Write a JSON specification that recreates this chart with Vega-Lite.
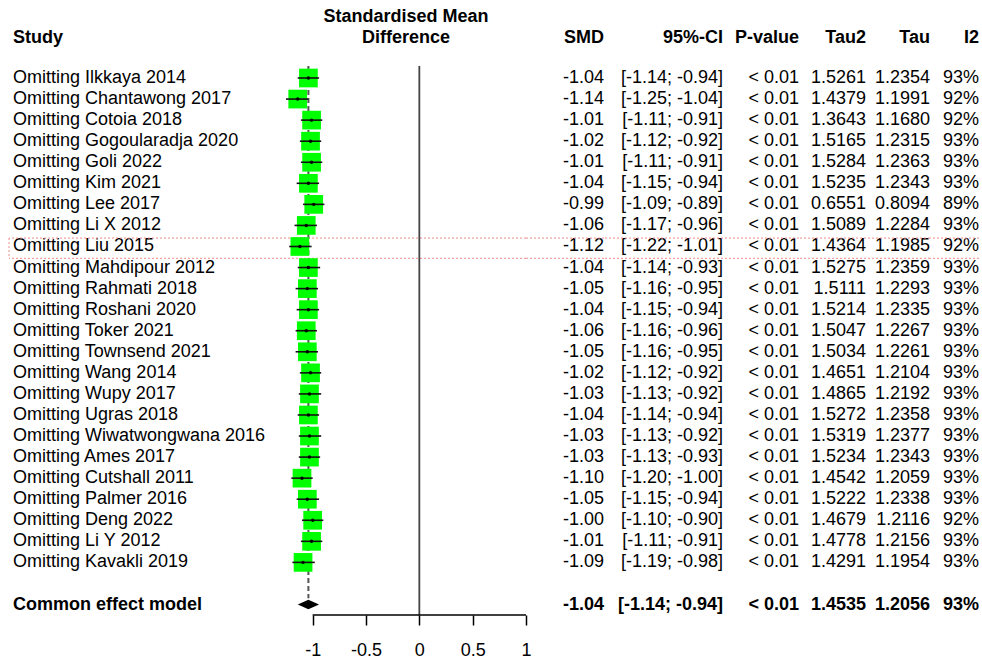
{
  "$schema": "https://vega.github.io/schema/vega-lite/v6.json",
  "padding": {"left": 8, "top": 0, "right": 4, "bottom": 0},
  "spacing": 0,
  "bounds": "flush",
  "config": {
    "view": {"stroke": null},
    "text": {"font": "Liberation Sans", "fontSize": 18, "color": "#000000"},
    "axis": {"labelFont": "Liberation Sans"},
    "locale": {"number": {"decimal": ".", "thousands": ",", "grouping": [3], "currency": ["$", ""], "minus": "-"}}
  },
  "datasets": {
    "rows": [
      {"study": "Omitting Ilkkaya 2014", "row": 1, "kind": "study", "smd": -1.04, "lower": -1.14, "upper": -0.94, "p": "< 0.01", "tau2": 1.5261, "tau": 1.2354, "i2": 0.93},
      {"study": "Omitting Chantawong 2017", "row": 2, "kind": "study", "smd": -1.14, "lower": -1.25, "upper": -1.04, "p": "< 0.01", "tau2": 1.4379, "tau": 1.1991, "i2": 0.92},
      {"study": "Omitting Cotoia 2018", "row": 3, "kind": "study", "smd": -1.01, "lower": -1.11, "upper": -0.91, "p": "< 0.01", "tau2": 1.3643, "tau": 1.1680, "i2": 0.92},
      {"study": "Omitting Gogoularadja 2020", "row": 4, "kind": "study", "smd": -1.02, "lower": -1.12, "upper": -0.92, "p": "< 0.01", "tau2": 1.5165, "tau": 1.2315, "i2": 0.93},
      {"study": "Omitting Goli 2022", "row": 5, "kind": "study", "smd": -1.01, "lower": -1.11, "upper": -0.91, "p": "< 0.01", "tau2": 1.5284, "tau": 1.2363, "i2": 0.93},
      {"study": "Omitting Kim 2021", "row": 6, "kind": "study", "smd": -1.04, "lower": -1.15, "upper": -0.94, "p": "< 0.01", "tau2": 1.5235, "tau": 1.2343, "i2": 0.93},
      {"study": "Omitting Lee 2017", "row": 7, "kind": "study", "smd": -0.99, "lower": -1.09, "upper": -0.89, "p": "< 0.01", "tau2": 0.6551, "tau": 0.8094, "i2": 0.89},
      {"study": "Omitting Li X 2012", "row": 8, "kind": "study", "smd": -1.06, "lower": -1.17, "upper": -0.96, "p": "< 0.01", "tau2": 1.5089, "tau": 1.2284, "i2": 0.93},
      {"study": "Omitting Liu 2015", "row": 9, "kind": "study", "smd": -1.12, "lower": -1.22, "upper": -1.01, "p": "< 0.01", "tau2": 1.4364, "tau": 1.1985, "i2": 0.92},
      {"study": "Omitting Mahdipour 2012", "row": 10, "kind": "study", "smd": -1.04, "lower": -1.14, "upper": -0.93, "p": "< 0.01", "tau2": 1.5275, "tau": 1.2359, "i2": 0.93},
      {"study": "Omitting Rahmati 2018", "row": 11, "kind": "study", "smd": -1.05, "lower": -1.16, "upper": -0.95, "p": "< 0.01", "tau2": 1.5111, "tau": 1.2293, "i2": 0.93},
      {"study": "Omitting Roshani 2020", "row": 12, "kind": "study", "smd": -1.04, "lower": -1.15, "upper": -0.94, "p": "< 0.01", "tau2": 1.5214, "tau": 1.2335, "i2": 0.93},
      {"study": "Omitting Toker 2021", "row": 13, "kind": "study", "smd": -1.06, "lower": -1.16, "upper": -0.96, "p": "< 0.01", "tau2": 1.5047, "tau": 1.2267, "i2": 0.93},
      {"study": "Omitting Townsend 2021", "row": 14, "kind": "study", "smd": -1.05, "lower": -1.16, "upper": -0.95, "p": "< 0.01", "tau2": 1.5034, "tau": 1.2261, "i2": 0.93},
      {"study": "Omitting Wang 2014", "row": 15, "kind": "study", "smd": -1.02, "lower": -1.12, "upper": -0.92, "p": "< 0.01", "tau2": 1.4651, "tau": 1.2104, "i2": 0.93},
      {"study": "Omitting Wupy 2017", "row": 16, "kind": "study", "smd": -1.03, "lower": -1.13, "upper": -0.92, "p": "< 0.01", "tau2": 1.4865, "tau": 1.2192, "i2": 0.93},
      {"study": "Omitting Ugras 2018", "row": 17, "kind": "study", "smd": -1.04, "lower": -1.14, "upper": -0.94, "p": "< 0.01", "tau2": 1.5272, "tau": 1.2358, "i2": 0.93},
      {"study": "Omitting Wiwatwongwana 2016", "row": 18, "kind": "study", "smd": -1.03, "lower": -1.13, "upper": -0.92, "p": "< 0.01", "tau2": 1.5319, "tau": 1.2377, "i2": 0.93},
      {"study": "Omitting Ames 2017", "row": 19, "kind": "study", "smd": -1.03, "lower": -1.13, "upper": -0.93, "p": "< 0.01", "tau2": 1.5234, "tau": 1.2343, "i2": 0.93},
      {"study": "Omitting Cutshall 2011", "row": 20, "kind": "study", "smd": -1.10, "lower": -1.20, "upper": -1.00, "p": "< 0.01", "tau2": 1.4542, "tau": 1.2059, "i2": 0.93},
      {"study": "Omitting Palmer 2016", "row": 21, "kind": "study", "smd": -1.05, "lower": -1.15, "upper": -0.94, "p": "< 0.01", "tau2": 1.5222, "tau": 1.2338, "i2": 0.93},
      {"study": "Omitting Deng 2022", "row": 22, "kind": "study", "smd": -1.00, "lower": -1.10, "upper": -0.90, "p": "< 0.01", "tau2": 1.4679, "tau": 1.2116, "i2": 0.92},
      {"study": "Omitting Li Y 2012", "row": 23, "kind": "study", "smd": -1.01, "lower": -1.11, "upper": -0.91, "p": "< 0.01", "tau2": 1.4778, "tau": 1.2156, "i2": 0.93},
      {"study": "Omitting Kavakli 2019", "row": 24, "kind": "study", "smd": -1.09, "lower": -1.19, "upper": -0.98, "p": "< 0.01", "tau2": 1.4291, "tau": 1.1954, "i2": 0.93},
      {"study": "Common effect model", "row": 26, "kind": "common", "smd": -1.04, "lower": -1.14, "upper": -0.94, "p": "< 0.01", "tau2": 1.4535, "tau": 1.2056, "i2": 0.93}
    ],
    "one": [{"k": 1}]
  },
  "hconcat": [
    {
      "width": 277,
      "height": 615,
      "layer": [
        {
          "data": {"name": "rows"},
          "mark": {"type": "text", "align": "left", "baseline": "middle", "dx": 4, "fontWeight": {"expr": "datum.kind === 'common' ? 'bold' : 'normal'"}},
          "encoding": {
            "x": {"value": 0},
            "y": {"field": "row", "type": "quantitative", "scale": {"domain": [-2.704, 26.498], "reverse": true, "nice": false, "zero": false}, "axis": null},
            "text": {"field": "study", "type": "nominal"}
          }
        },
        {
          "data": {"name": "one"},
          "mark": {"type": "text", "text": "Study", "align": "left", "baseline": "alphabetic", "dx": 4, "fontWeight": "bold"},
          "encoding": {"x": {"value": 0}, "y": {"datum": -0.64, "type": "quantitative"}}
        },
        {
          "data": {"name": "one"},
          "mark": {"type": "rule", "color": "#f08a8a", "strokeDash": [2, 2], "strokeWidth": 1},
          "encoding": {"y": {"datum": 8.6, "type": "quantitative"}}
        },
        {
          "data": {"name": "one"},
          "mark": {"type": "rule", "color": "#f08a8a", "strokeDash": [2, 2], "strokeWidth": 1},
          "encoding": {"y": {"datum": 9.56, "type": "quantitative"}}
        },
        {
          "data": {"name": "one"},
          "mark": {"type": "rule", "color": "#f08a8a", "strokeDash": [2, 2], "strokeWidth": 1},
          "encoding": {"x": {"value": 0}, "y": {"datum": 8.6, "type": "quantitative"}, "y2": {"datum": 9.56}}
        }
      ]
    },
    {
      "width": 240,
      "height": 615,
      "layer": [
        {
          "data": {"name": "one"},
          "mark": {"type": "rule", "color": "#f08a8a", "strokeDash": [2, 2], "strokeWidth": 1},
          "encoding": {"y": {"datum": 8.6, "type": "quantitative", "scale": {"domain": [-2.704, 26.498], "reverse": true, "nice": false, "zero": false}, "axis": null}}
        },
        {
          "data": {"name": "one"},
          "mark": {"type": "rule", "color": "#f08a8a", "strokeDash": [2, 2], "strokeWidth": 1},
          "encoding": {"y": {"datum": 9.56, "type": "quantitative"}}
        },
        {
          "data": {"name": "one"},
          "mark": {"type": "rule", "color": "#444444", "strokeWidth": 1.8},
          "encoding": {"x": {"datum": 0, "type": "quantitative"}, "y": {"datum": 0.43, "type": "quantitative"}, "y2": {"datum": 26.498}}
        },
        {
          "data": {"name": "rows"},
          "transform": [{"filter": "datum.kind === 'common'"}],
          "mark": {"type": "rule", "color": "#555555", "strokeWidth": 2, "strokeDash": [5, 3]},
          "encoding": {"x": {"field": "smd", "type": "quantitative"}, "y": {"datum": 0.43, "type": "quantitative"}, "y2": {"datum": 25.7}}
        },
        {
          "data": {"name": "rows"},
          "transform": [{"filter": "datum.kind === 'study'"}],
          "mark": {"type": "point", "shape": "square", "filled": true, "color": "#00ff00", "opacity": 1, "size": 350},
          "encoding": {
            "x": {
              "field": "smd",
              "type": "quantitative",
              "scale": {"domain": [-1.25, 1.0], "nice": false, "zero": false},
              "axis": {"values": [-1, -0.5, 0, 0.5, 1], "format": "~g", "domain": false, "grid": false, "title": null, "tickSize": 10, "tickWidth": 1.5, "tickColor": "#000000", "labelFontSize": 18, "labelColor": "#000000", "labelPadding": 16, "labelFlush": false, "labelOverlap": false}
            },
            "y": {"field": "row", "type": "quantitative"}
          }
        },
        {
          "data": {"name": "rows"},
          "transform": [{"filter": "datum.kind === 'study'"}],
          "mark": {"type": "rule", "color": "#111111", "strokeWidth": 1.6},
          "encoding": {"x": {"field": "lower", "type": "quantitative"}, "x2": {"field": "upper"}, "y": {"field": "row", "type": "quantitative"}}
        },
        {
          "data": {"name": "rows"},
          "transform": [{"filter": "datum.kind === 'study'"}],
          "mark": {"type": "point", "shape": "circle", "filled": true, "color": "#000000", "opacity": 1, "size": 12},
          "encoding": {"x": {"field": "smd", "type": "quantitative"}, "y": {"field": "row", "type": "quantitative"}}
        },
        {
          "data": {"name": "rows"},
          "transform": [{"filter": "datum.kind === 'common'"}],
          "mark": {"type": "point", "shape": "M-1,0L0,-0.45L1,0L0,0.45Z", "filled": true, "color": "#000000", "opacity": 1, "size": 454},
          "encoding": {"x": {"field": "smd", "type": "quantitative"}, "y": {"field": "row", "type": "quantitative"}}
        },
        {
          "data": {"name": "one"},
          "mark": {"type": "rule", "color": "#000000", "strokeWidth": 1.5},
          "encoding": {"x": {"datum": -1, "type": "quantitative"}, "x2": {"datum": 1}, "y": {"datum": 26.498, "type": "quantitative"}}
        },
        {
          "data": {"name": "one"},
          "mark": {"type": "text", "text": "Standardised Mean", "align": "center", "baseline": "alphabetic", "fontWeight": "bold"},
          "encoding": {"y": {"datum": -1.673, "type": "quantitative"}}
        },
        {
          "data": {"name": "one"},
          "mark": {"type": "text", "text": "Difference", "align": "center", "baseline": "alphabetic", "fontWeight": "bold"},
          "encoding": {"y": {"datum": -0.64, "type": "quantitative"}}
        }
      ]
    },
    {
      "width": 78,
      "height": 615,
      "layer": [
        {
          "data": {"name": "rows"},
          "mark": {"type": "text", "align": "right", "baseline": "middle", "fontWeight": {"expr": "datum.kind === 'common' ? 'bold' : 'normal'"}},
          "encoding": {
            "x": {"value": "width"},
            "y": {"field": "row", "type": "quantitative", "scale": {"domain": [-2.704, 26.498], "reverse": true, "nice": false, "zero": false}, "axis": null},
            "text": {"field": "smd", "type": "quantitative", "format": ".2f"}
          }
        },
        {
          "data": {"name": "one"},
          "mark": {"type": "text", "text": "SMD", "align": "right", "baseline": "alphabetic", "fontWeight": "bold"},
          "encoding": {"x": {"value": "width"}, "y": {"datum": -0.64, "type": "quantitative"}}
        },
        {
          "data": {"name": "one"},
          "mark": {"type": "rule", "color": "#f08a8a", "strokeDash": [2, 2], "strokeWidth": 1},
          "encoding": {"y": {"datum": 8.6, "type": "quantitative"}}
        },
        {
          "data": {"name": "one"},
          "mark": {"type": "rule", "color": "#f08a8a", "strokeDash": [2, 2], "strokeWidth": 1},
          "encoding": {"y": {"datum": 9.56, "type": "quantitative"}}
        }
      ]
    },
    {
      "width": 119,
      "height": 615,
      "layer": [
        {
          "data": {"name": "rows"},
          "mark": {"type": "text", "align": "right", "baseline": "middle", "fontWeight": {"expr": "datum.kind === 'common' ? 'bold' : 'normal'"}, "text": {"expr": "'[' + format(datum.lower, '.2f') + '; ' + format(datum.upper, '.2f') + ']'"}},
          "encoding": {
            "x": {"value": "width"},
            "y": {"field": "row", "type": "quantitative", "scale": {"domain": [-2.704, 26.498], "reverse": true, "nice": false, "zero": false}, "axis": null}
          }
        },
        {
          "data": {"name": "one"},
          "mark": {"type": "text", "text": "95%-CI", "align": "right", "baseline": "alphabetic", "fontWeight": "bold"},
          "encoding": {"x": {"value": "width"}, "y": {"datum": -0.64, "type": "quantitative"}}
        },
        {
          "data": {"name": "one"},
          "mark": {"type": "rule", "color": "#f08a8a", "strokeDash": [2, 2], "strokeWidth": 1},
          "encoding": {"y": {"datum": 8.6, "type": "quantitative"}}
        },
        {
          "data": {"name": "one"},
          "mark": {"type": "rule", "color": "#f08a8a", "strokeDash": [2, 2], "strokeWidth": 1},
          "encoding": {"y": {"datum": 9.56, "type": "quantitative"}}
        }
      ]
    },
    {
      "width": 76,
      "height": 615,
      "layer": [
        {
          "data": {"name": "rows"},
          "mark": {"type": "text", "align": "right", "baseline": "middle", "fontWeight": {"expr": "datum.kind === 'common' ? 'bold' : 'normal'"}},
          "encoding": {
            "x": {"value": "width"},
            "y": {"field": "row", "type": "quantitative", "scale": {"domain": [-2.704, 26.498], "reverse": true, "nice": false, "zero": false}, "axis": null},
            "text": {"field": "p", "type": "nominal"}
          }
        },
        {
          "data": {"name": "one"},
          "mark": {"type": "text", "text": "P-value", "align": "right", "baseline": "alphabetic", "fontWeight": "bold"},
          "encoding": {"x": {"value": "width"}, "y": {"datum": -0.64, "type": "quantitative"}}
        },
        {
          "data": {"name": "one"},
          "mark": {"type": "rule", "color": "#f08a8a", "strokeDash": [2, 2], "strokeWidth": 1},
          "encoding": {"y": {"datum": 8.6, "type": "quantitative"}}
        },
        {
          "data": {"name": "one"},
          "mark": {"type": "rule", "color": "#f08a8a", "strokeDash": [2, 2], "strokeWidth": 1},
          "encoding": {"y": {"datum": 9.56, "type": "quantitative"}}
        }
      ]
    },
    {
      "width": 67,
      "height": 615,
      "layer": [
        {
          "data": {"name": "rows"},
          "mark": {"type": "text", "align": "right", "baseline": "middle", "fontWeight": {"expr": "datum.kind === 'common' ? 'bold' : 'normal'"}},
          "encoding": {
            "x": {"value": "width"},
            "y": {"field": "row", "type": "quantitative", "scale": {"domain": [-2.704, 26.498], "reverse": true, "nice": false, "zero": false}, "axis": null},
            "text": {"field": "tau2", "type": "quantitative", "format": ".4f"}
          }
        },
        {
          "data": {"name": "one"},
          "mark": {"type": "text", "text": "Tau2", "align": "right", "baseline": "alphabetic", "fontWeight": "bold"},
          "encoding": {"x": {"value": "width"}, "y": {"datum": -0.64, "type": "quantitative"}}
        },
        {
          "data": {"name": "one"},
          "mark": {"type": "rule", "color": "#f08a8a", "strokeDash": [2, 2], "strokeWidth": 1},
          "encoding": {"y": {"datum": 8.6, "type": "quantitative"}}
        },
        {
          "data": {"name": "one"},
          "mark": {"type": "rule", "color": "#f08a8a", "strokeDash": [2, 2], "strokeWidth": 1},
          "encoding": {"y": {"datum": 9.56, "type": "quantitative"}}
        }
      ]
    },
    {
      "width": 64,
      "height": 615,
      "layer": [
        {
          "data": {"name": "rows"},
          "mark": {"type": "text", "align": "right", "baseline": "middle", "fontWeight": {"expr": "datum.kind === 'common' ? 'bold' : 'normal'"}},
          "encoding": {
            "x": {"value": "width"},
            "y": {"field": "row", "type": "quantitative", "scale": {"domain": [-2.704, 26.498], "reverse": true, "nice": false, "zero": false}, "axis": null},
            "text": {"field": "tau", "type": "quantitative", "format": ".4f"}
          }
        },
        {
          "data": {"name": "one"},
          "mark": {"type": "text", "text": "Tau", "align": "right", "baseline": "alphabetic", "fontWeight": "bold"},
          "encoding": {"x": {"value": "width"}, "y": {"datum": -0.64, "type": "quantitative"}}
        },
        {
          "data": {"name": "one"},
          "mark": {"type": "rule", "color": "#f08a8a", "strokeDash": [2, 2], "strokeWidth": 1},
          "encoding": {"y": {"datum": 8.6, "type": "quantitative"}}
        },
        {
          "data": {"name": "one"},
          "mark": {"type": "rule", "color": "#f08a8a", "strokeDash": [2, 2], "strokeWidth": 1},
          "encoding": {"y": {"datum": 9.56, "type": "quantitative"}}
        }
      ]
    },
    {
      "width": 49,
      "height": 615,
      "layer": [
        {
          "data": {"name": "rows"},
          "mark": {"type": "text", "align": "right", "baseline": "middle", "fontWeight": {"expr": "datum.kind === 'common' ? 'bold' : 'normal'"}},
          "encoding": {
            "x": {"value": "width"},
            "y": {"field": "row", "type": "quantitative", "scale": {"domain": [-2.704, 26.498], "reverse": true, "nice": false, "zero": false}, "axis": null},
            "text": {"field": "i2", "type": "quantitative", "format": ".0%"}
          }
        },
        {
          "data": {"name": "one"},
          "mark": {"type": "text", "text": "I2", "align": "right", "baseline": "alphabetic", "fontWeight": "bold"},
          "encoding": {"x": {"value": "width"}, "y": {"datum": -0.64, "type": "quantitative"}}
        },
        {
          "data": {"name": "one"},
          "mark": {"type": "rule", "color": "#f08a8a", "strokeDash": [2, 2], "strokeWidth": 1},
          "encoding": {"y": {"datum": 8.6, "type": "quantitative"}}
        },
        {
          "data": {"name": "one"},
          "mark": {"type": "rule", "color": "#f08a8a", "strokeDash": [2, 2], "strokeWidth": 1},
          "encoding": {"y": {"datum": 9.56, "type": "quantitative"}}
        }
      ]
    }
  ]
}
